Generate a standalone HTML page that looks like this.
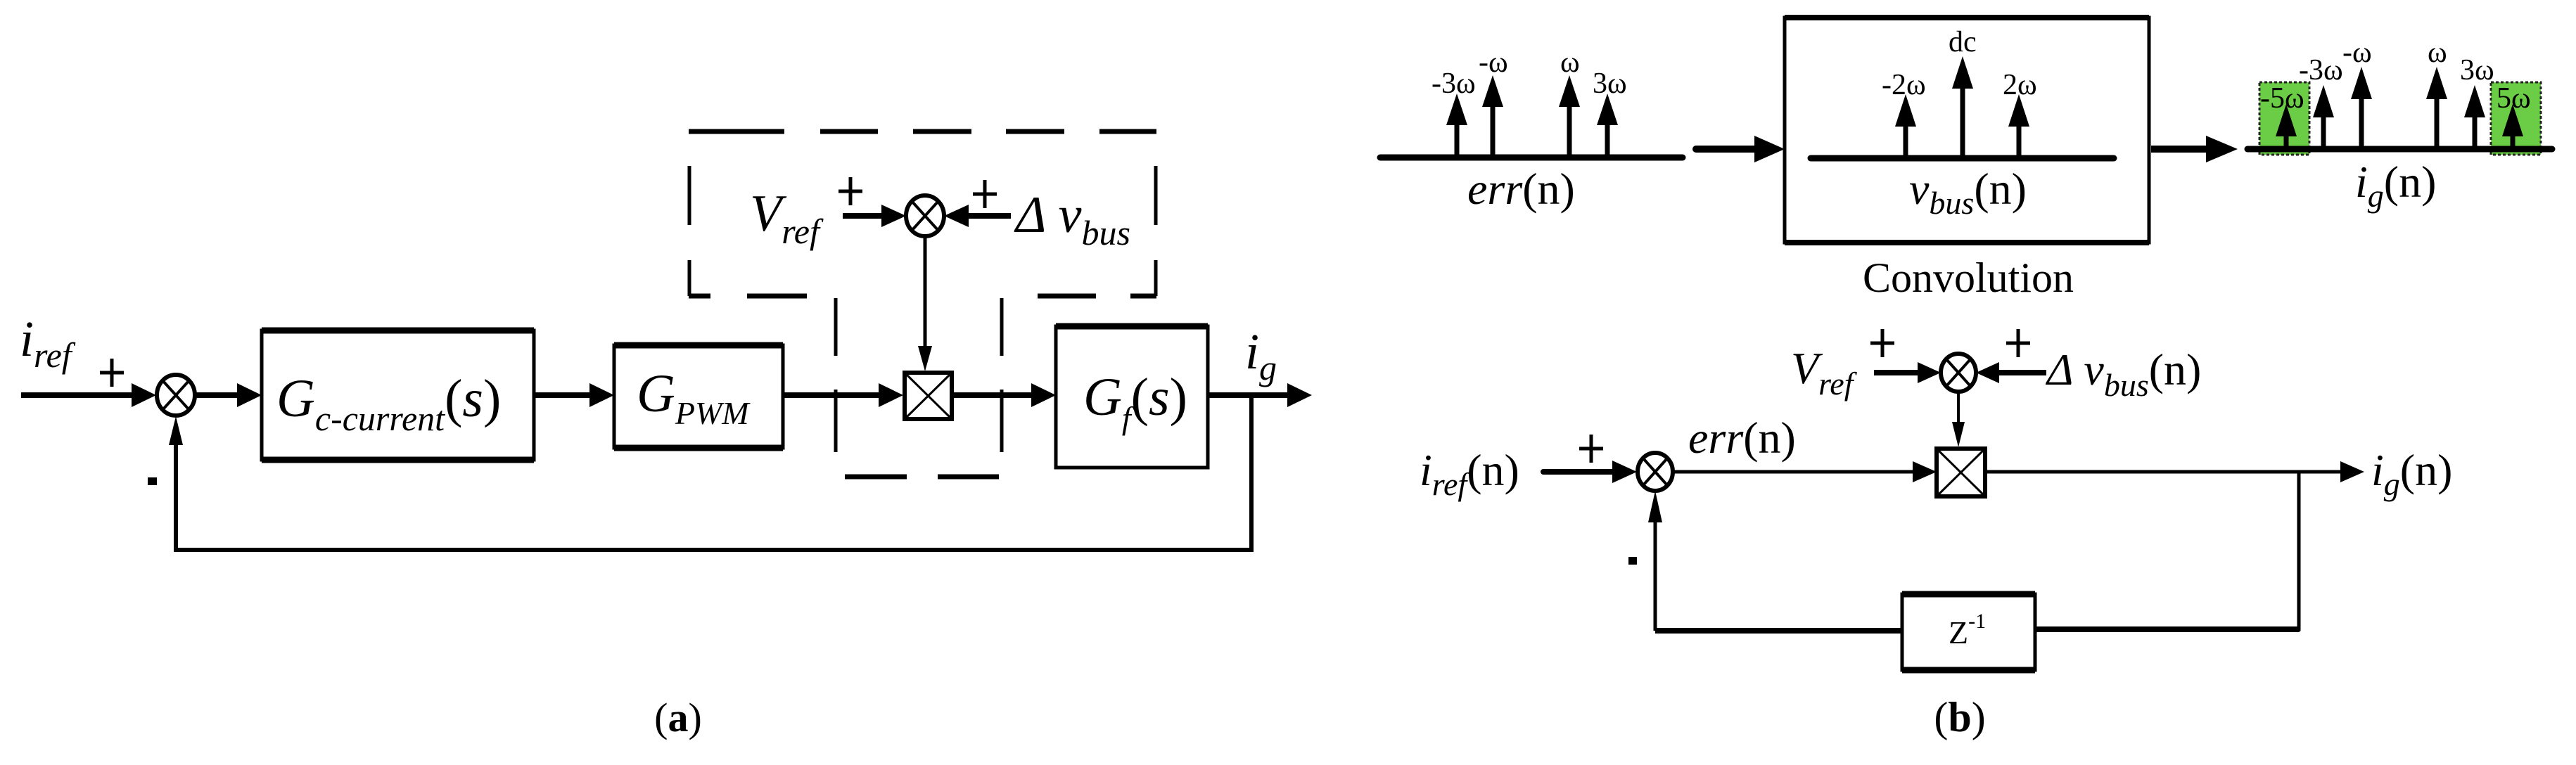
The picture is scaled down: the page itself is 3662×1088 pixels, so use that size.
<!DOCTYPE html>
<html><head><meta charset="utf-8"><style>
html,body{margin:0;padding:0;background:#fff}
svg{display:block}
text{font-family:"Liberation Serif","DejaVu Serif",serif;fill:#000}
.it{font-style:italic}
</style></head><body>
<svg width="3662" height="1088" viewBox="0 0 3662 1088" xmlns="http://www.w3.org/2000/svg" font-family="Liberation Serif, DejaVu Serif, serif">
<g stroke="#000" fill="none" stroke-width="6">
<!-- ===== Panel (a) ===== -->
<line x1="30" y1="562" x2="195" y2="562" stroke-width="8"/>
<polygon points="187,545 222,562 187,579" fill="#000" stroke="none"/>
<ellipse cx="250" cy="562" rx="27" ry="29"/>
<line x1="231" y1="541" x2="269" y2="583" stroke-width="4"/>
<line x1="269" y1="541" x2="231" y2="583" stroke-width="4"/>
<line x1="277" y1="562" x2="345" y2="562" stroke-width="8"/>
<polygon points="337,545 372,562 337,579" fill="#000" stroke="none"/>
<rect x="372" y="470" width="387" height="184" stroke-width="5"/>
<line x1="372" y1="470" x2="759" y2="470" stroke-width="9"/>
<line x1="372" y1="654" x2="759" y2="654" stroke-width="9"/>
<line x1="759" y1="562" x2="845" y2="562" stroke-width="8"/>
<polygon points="838,545 873,562 838,579" fill="#000" stroke="none"/>
<rect x="873" y="491" width="240" height="146" stroke-width="5"/>
<line x1="873" y1="491" x2="1113" y2="491" stroke-width="9"/>
<line x1="873" y1="637" x2="1113" y2="637" stroke-width="9"/>
<line x1="1113" y1="562" x2="1255" y2="562" stroke-width="8"/>
<polygon points="1249,545 1284,562 1249,579" fill="#000" stroke="none"/>
<rect x="1286" y="530" width="67" height="66" stroke-width="6"/>
<line x1="1288" y1="532" x2="1351" y2="594" stroke-width="3"/>
<line x1="1351" y1="532" x2="1288" y2="594" stroke-width="3"/>
<line x1="1355" y1="562" x2="1475" y2="562" stroke-width="8"/>
<polygon points="1466,545 1501,562 1466,579" fill="#000" stroke="none"/>
<rect x="1501" y="464" width="216" height="201" stroke-width="5"/>
<line x1="1501" y1="464" x2="1717" y2="464" stroke-width="9"/>
<line x1="1717" y1="562" x2="1838" y2="562" stroke-width="8"/>
<polygon points="1830,545 1865,562 1830,579" fill="#000" stroke="none"/>
<polyline points="1779,562 1779,782 250,782 250,625" stroke-width="6"/>
<polygon points="240,633 250,592 260,633" fill="#000" stroke="none"/>
<!-- small summer -->
<ellipse cx="1315" cy="307" rx="27" ry="29"/>
<line x1="1296" y1="286" x2="1334" y2="328" stroke-width="4"/>
<line x1="1334" y1="286" x2="1296" y2="328" stroke-width="4"/>
<line x1="1198" y1="307" x2="1262" y2="307" stroke-width="8"/>
<polygon points="1253,291 1288,307 1253,323" fill="#000" stroke="none"/>
<line x1="1437" y1="307" x2="1370" y2="307" stroke-width="8"/>
<polygon points="1377,291 1342,307 1377,323" fill="#000" stroke="none"/>
<line x1="1315" y1="336" x2="1315" y2="495" stroke-width="5"/>
<polygon points="1305,492 1315,528 1325,492" fill="#000" stroke="none"/>
<!-- dashed box -->
<g stroke-width="7">
<line x1="979" y1="187" x2="1115" y2="187"/>
<line x1="1166" y1="187" x2="1248" y2="187"/>
<line x1="1298" y1="187" x2="1381" y2="187"/>
<line x1="1430" y1="187" x2="1513" y2="187"/>
<line x1="1563" y1="187" x2="1644" y2="187"/>
<line x1="979" y1="421" x2="1010" y2="421"/>
<line x1="1062" y1="421" x2="1147" y2="421"/>
<line x1="1475" y1="421" x2="1558" y2="421"/>
<line x1="1607" y1="421" x2="1644" y2="421"/>
<line x1="1201" y1="678" x2="1289" y2="678"/>
<line x1="1333" y1="678" x2="1420" y2="678"/>
</g>
<g stroke-width="5">
<line x1="980" y1="236" x2="980" y2="320"/>
<line x1="980" y1="370" x2="980" y2="421"/>
<line x1="1643" y1="236" x2="1643" y2="320"/>
<line x1="1643" y1="370" x2="1643" y2="421"/>
<line x1="1188" y1="424" x2="1188" y2="506"/>
<line x1="1188" y1="554" x2="1188" y2="643"/>
<line x1="1424" y1="424" x2="1424" y2="506"/>
<line x1="1424" y1="554" x2="1424" y2="643"/>
</g>
<!-- plus signs a -->
<g stroke-width="5">
<line x1="142" y1="530" x2="176" y2="530"/><line x1="159" y1="510" x2="159" y2="550"/>
<line x1="1192" y1="272" x2="1226" y2="272"/><line x1="1209" y1="252" x2="1209" y2="292"/>
<line x1="1383" y1="276" x2="1417" y2="276"/><line x1="1400" y1="256" x2="1400" y2="296"/>
</g>
<!-- ===== Panel (b) top ===== -->
<line x1="1962" y1="224" x2="2392" y2="224" stroke-width="9" stroke-linecap="round"/>
<line x1="2411" y1="212" x2="2500" y2="212" stroke-width="10" stroke-linecap="round"/>
<polygon points="2494,193 2537,212 2494,231" fill="#000" stroke="none"/>
<rect x="2537" y="25" width="518" height="320" stroke-width="5"/>
<line x1="2537" y1="25" x2="3055" y2="25" stroke-width="8"/>
<line x1="2537" y1="345" x2="3055" y2="345" stroke-width="8"/>
<line x1="2574" y1="225" x2="3005" y2="225" stroke-width="9" stroke-linecap="round"/>
<line x1="3058" y1="212" x2="3140" y2="212" stroke-width="10"/>
<polygon points="3136,193 3181,212 3136,231" fill="#000" stroke="none"/>
<rect x="3212" y="117" width="71" height="103" fill="#6acd45" stroke="#222" stroke-width="3" stroke-dasharray="4,3"/>
<rect x="3541" y="117" width="71" height="103" fill="#6acd45" stroke="#222" stroke-width="3" stroke-dasharray="4,3"/>
<line x1="3195" y1="212" x2="3628" y2="212" stroke-width="9" stroke-linecap="round"/>
</g>
<!-- spikes -->
<g fill="#000" stroke="#000" stroke-width="7">
<!-- err -->
<line x1="2071" y1="224" x2="2071" y2="175"/><polygon points="2056,178 2071,133 2086,178" stroke="none"/>
<line x1="2122" y1="224" x2="2122" y2="150"/><polygon points="2107,152 2122,107 2137,152" stroke="none"/>
<line x1="2231" y1="224" x2="2231" y2="150"/><polygon points="2216,152 2231,107 2246,152" stroke="none"/>
<line x1="2285" y1="224" x2="2285" y2="175"/><polygon points="2270,178 2285,133 2300,178" stroke="none"/>
<!-- vbus -->
<line x1="2709" y1="225" x2="2709" y2="175"/><polygon points="2694,180 2709,134 2724,180" stroke="none"/>
<line x1="2790" y1="225" x2="2790" y2="120"/><polygon points="2775,126 2790,80 2805,126" stroke="none"/>
<line x1="2870" y1="225" x2="2870" y2="175"/><polygon points="2855,180 2870,134 2885,180" stroke="none"/>
<!-- ig -->
<line x1="3250" y1="212" x2="3250" y2="185"/><polygon points="3235,194 3250,148 3265,194" stroke="none"/>
<line x1="3303" y1="212" x2="3303" y2="160"/><polygon points="3288,167 3303,121 3318,167" stroke="none"/>
<line x1="3357" y1="212" x2="3357" y2="135"/><polygon points="3342,141 3357,95 3372,141" stroke="none"/>
<line x1="3464" y1="212" x2="3464" y2="135"/><polygon points="3449,141 3464,95 3479,141" stroke="none"/>
<line x1="3518" y1="212" x2="3518" y2="160"/><polygon points="3503,167 3518,121 3533,167" stroke="none"/>
<line x1="3572" y1="212" x2="3572" y2="185"/><polygon points="3557,194 3572,148 3587,194" stroke="none"/>
</g>
<!-- ===== Panel (b) bottom ===== -->
<g stroke="#000" fill="none" stroke-width="6">
<ellipse cx="2784" cy="530" rx="25" ry="27"/>
<line x1="2767" y1="511" x2="2801" y2="549" stroke-width="4"/>
<line x1="2801" y1="511" x2="2767" y2="549" stroke-width="4"/>
<line x1="2664" y1="530" x2="2735" y2="530" stroke-width="8"/>
<polygon points="2726,515 2759,530 2726,545" fill="#000" stroke="none"/>
<line x1="2909" y1="530" x2="2835" y2="530" stroke-width="8"/>
<polygon points="2842,515 2809,530 2842,545" fill="#000" stroke="none"/>
<line x1="2784" y1="557" x2="2784" y2="605" stroke-width="4"/>
<polygon points="2775,600 2784,636 2793,600" fill="#000" stroke="none"/>
<rect x="2753" y="638" width="69" height="68" stroke-width="6"/>
<line x1="2756" y1="641" x2="2819" y2="703" stroke-width="3"/>
<line x1="2819" y1="641" x2="2756" y2="703" stroke-width="3"/>
<line x1="2194" y1="671" x2="2300" y2="671" stroke-width="8" stroke-linecap="round"/>
<polygon points="2292,655 2327,671 2292,687" fill="#000" stroke="none"/>
<ellipse cx="2353" cy="671" rx="25" ry="27"/>
<line x1="2336" y1="652" x2="2370" y2="690" stroke-width="4"/>
<line x1="2370" y1="652" x2="2336" y2="690" stroke-width="4"/>
<line x1="2379" y1="671" x2="2725" y2="671" stroke-width="5"/>
<polygon points="2719,656 2753,671 2719,686" fill="#000" stroke="none"/>
<line x1="2822" y1="671" x2="3330" y2="671" stroke-width="5"/>
<polygon points="3327,656 3361,671 3327,686" fill="#000" stroke="none"/>
<polyline points="3268,671 3268,895 2893,895" stroke-width="5"/>
<line x1="2893" y1="895" x2="3269" y2="895" stroke-width="8"/>
<line x1="2704" y1="897" x2="2353" y2="897" stroke-width="8"/>
<line x1="2353" y1="897" x2="2353" y2="740" stroke-width="5"/>
<polygon points="2343,743 2353,698 2363,743" fill="#000" stroke="none"/>
<rect x="2704" y="845" width="189" height="108" stroke-width="5"/>
<line x1="2704" y1="845" x2="2893" y2="845" stroke-width="9"/>
<line x1="2704" y1="953" x2="2893" y2="953" stroke-width="9"/>
<g stroke-width="5">
<line x1="2659" y1="488" x2="2693" y2="488"/><line x1="2676" y1="468" x2="2676" y2="508"/>
<line x1="2852" y1="488" x2="2886" y2="488"/><line x1="2869" y1="468" x2="2869" y2="508"/>
<line x1="2245" y1="638" x2="2279" y2="638"/><line x1="2262" y1="618" x2="2262" y2="658"/>
</g>
</g>
<rect x="210" y="679" width="13" height="11" fill="#000"/>
<rect x="2315" y="792" width="12" height="11" fill="#000"/>

<!-- ===== Text (a) ===== -->
<text x="28" y="506" font-size="72" class="it">i<tspan font-size="50" dy="16">ref</tspan></text>
<text x="393" y="592" font-size="76" class="it">G<tspan font-size="50" dy="20">c-current</tspan><tspan font-size="76" dy="-20" font-style="normal">(</tspan>s<tspan font-style="normal">)</tspan></text>
<text x="905" y="585" font-size="76" class="it">G<tspan font-size="46" dy="18">PWM</tspan></text>
<text x="1540" y="590" font-size="76" class="it">G<tspan font-size="46" dy="20">f</tspan><tspan font-size="76" dy="-20" font-style="normal">(</tspan>s<tspan font-style="normal">)</tspan></text>
<text x="1770" y="524" font-size="72" class="it">i<tspan font-size="50" dy="16">g</tspan></text>
<text x="1066" y="328" font-size="74" class="it">V<tspan font-size="50" dy="18">ref</tspan></text>
<text x="1444" y="330" font-size="74" class="it">Δ v<tspan font-size="50" dy="18">bus</tspan></text>
<text x="964" y="1040" font-size="58" text-anchor="middle">(<tspan font-weight="bold">a</tspan>)</text>

<!-- ===== Text (b) top ===== -->
<g font-size="42">
<text x="2035" y="132">-3ω</text>
<text x="2102" y="102">-ω</text>
<text x="2218" y="102">ω</text>
<text x="2264" y="132">3ω</text>
<text x="2675" y="134">-2ω</text>
<text x="2770" y="73">dc</text>
<text x="2847" y="134">2ω</text>
<text x="3213" y="153">-5ω</text>
<text x="3268" y="113">-3ω</text>
<text x="3330" y="88">-ω</text>
<text x="3451" y="88">ω</text>
<text x="3497" y="113">3ω</text>
<text x="3549" y="153">5ω</text>
</g>
<text x="2086" y="290" font-size="64"><tspan class="it">err</tspan>(n)</text>
<text x="2714" y="290" font-size="64"><tspan class="it">v</tspan><tspan class="it" font-size="46" dy="14">bus</tspan><tspan dy="-14">(n)</tspan></text>
<text x="3348" y="280" font-size="64"><tspan class="it">i</tspan><tspan class="it" font-size="46" dy="14">g</tspan><tspan dy="-14">(n)</tspan></text>
<text x="2798" y="415" font-size="60" text-anchor="middle">Convolution</text>

<!-- ===== Text (b) bottom ===== -->
<text x="2546" y="545" font-size="64" class="it">V<tspan font-size="46" dy="16">ref</tspan></text>
<text x="2910" y="547" font-size="64"><tspan class="it">Δ v</tspan><tspan class="it" font-size="46" dy="16">bus</tspan><tspan dy="-16">(n)</tspan></text>
<text x="2018" y="690" font-size="64"><tspan class="it">i</tspan><tspan class="it" font-size="46" dy="14">ref</tspan><tspan dy="-14">(n)</tspan></text>
<text x="2400" y="644" font-size="64"><tspan class="it">err</tspan>(n)</text>
<text x="3371" y="690" font-size="64"><tspan class="it">i</tspan><tspan class="it" font-size="46" dy="14">g</tspan><tspan dy="-14">(n)</tspan></text>
<text x="2770" y="915" font-size="46">Z<tspan font-size="30" dy="-22">-1</tspan></text>
<text x="2786" y="1040" font-size="60" text-anchor="middle">(<tspan font-weight="bold">b</tspan>)</text>
</svg>
</body></html>
